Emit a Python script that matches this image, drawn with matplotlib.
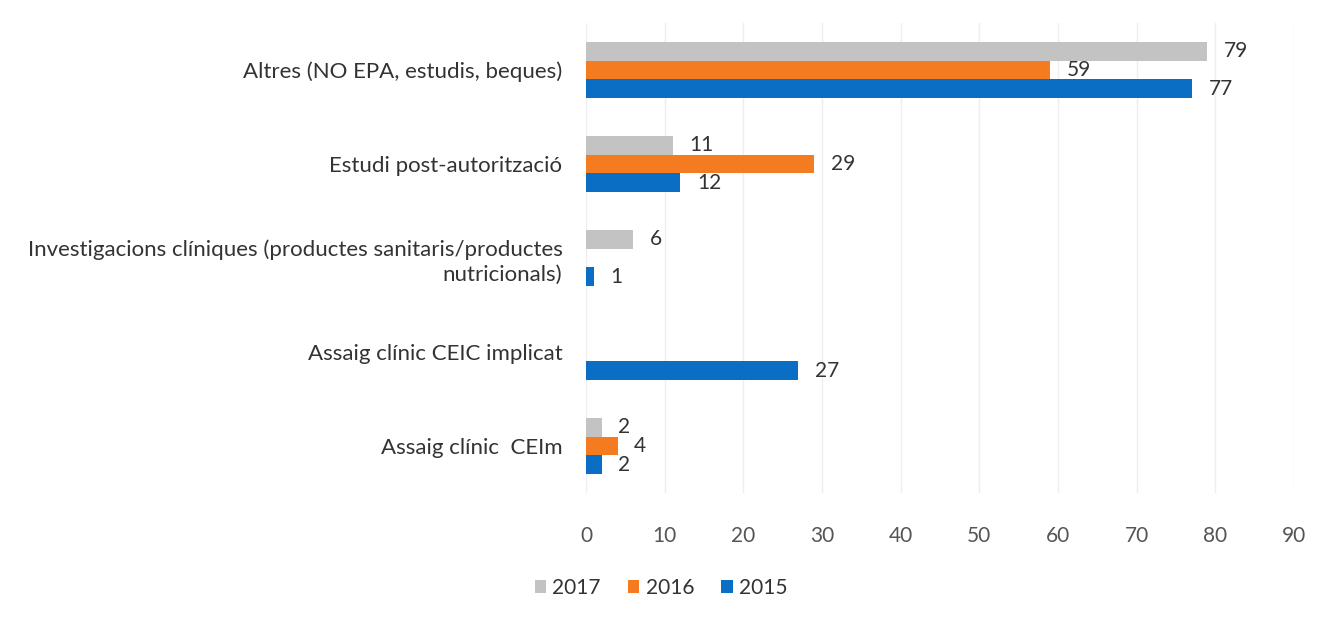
import numpy as np
import matplotlib
matplotlib.use("Agg")
import matplotlib.pyplot as plt

# categories bottom -> top
categories = ["Assaig clínic  CEIm",
              "Assaig clínic CEIC implicat",
              "Investigacions clíniques (productes sanitaris/productes\nnutricionals)",
              "Estudi post-autorització",
              "Altres (NO EPA, estudis, beques)"]
vals_2017 = [2, None, 6, 11, 79]
vals_2016 = [4, None, None, 29, 59]
vals_2015 = [2, 27, 1, 12, 77]
years = ["2017", "2016", "2015"]
colors = ["#c3c3c3", "#f47b20", "#0b6ec5"]

plt.rcParams['font.family'] = ['Lato', 'DejaVu Sans']

fig = plt.figure(figsize=(13.22, 6.22), dpi=100)
ax = fig.add_axes([0.4433, 0.2074, 0.5355, 0.7556])

y = np.arange(len(categories))
h = 0.2
series = [vals_2017, vals_2016, vals_2015]
offsets = [h, 0, -h]
for vals, off, col, yr in zip(series, offsets, colors, years):
    v = np.array([np.nan if x is None else x for x in vals], dtype=float)
    ax.barh(y + off, np.nan_to_num(v), height=h, color=col, label=yr)
    for yi, x in zip(y, vals):
        if x is None:
            continue
        ax.annotate(str(x), (x, yi + off), xytext=(12, 0), textcoords="offset points",
                    va="center", ha="left", fontsize=15, color="#333333")

ax.set_xlim(0, 90)
ax.set_ylim(-0.5, 4.5)
ax.set_xticks(range(0, 91, 10))
ax.set_yticks(y)
ax.set_yticklabels(categories, fontsize=16, color="#333333", linespacing=1.3)
ax.tick_params(axis="x", labelsize=15, labelcolor="#555555", length=0, pad=24)
ax.tick_params(axis="y", length=0, pad=17)
ax.grid(axis="x", color="#eeeeee", linewidth=1)
ax.set_axisbelow(True)
for s in ax.spines.values():
    s.set_visible(False)

handles, labels = ax.get_legend_handles_labels()
fig.legend(handles, labels, loc="center", bbox_to_anchor=(0.5, 0.055), ncol=3,
           frameon=False, fontsize=15, handlelength=0.55, handleheight=0.55,
           handletextpad=0.3, columnspacing=1.3, labelcolor="#333333")

fig.savefig("out.png", dpi=100)
